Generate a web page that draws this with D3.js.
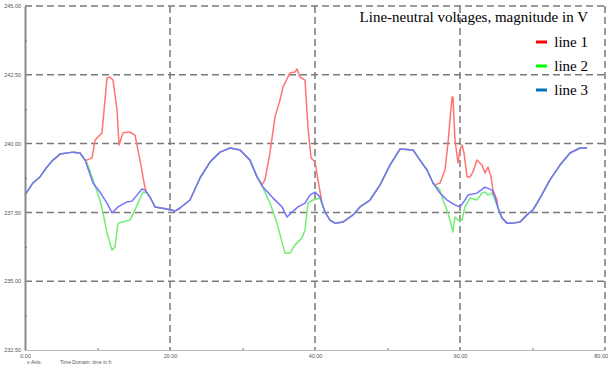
<!DOCTYPE html>
<html>
<head>
<meta charset="utf-8">
<script src="https://cdn.jsdelivr.net/npm/d3@7"></script>
<style>
  html, body { margin: 0; padding: 0; background: #fff; }
  svg { display: block; }
</style>
</head>
<body>
<svg id="chart" width="608" height="365"></svg>
<script>
// Time axis (hours) and voltage magnitudes (V) for the three line-neutral voltages
const line3Time = [0, 1.10, 2.07, 3.03, 3.86, 4.83, 6.62, 7.59, 8.28, 9.38, 10.34, 11.31, 12.0, 12.83, 14.07, 14.76,
  16.14, 16.55, 17.24, 17.93, 19.59, 20.69, 21.38, 22.76, 24.14, 25.52, 26.90, 28.28, 29.66, 31.03, 32.00, 32.83,
  34.21, 35.45, 36.14, 36.83, 37.66, 38.62, 39.31, 40.00, 40.69, 41.38, 42.07, 42.76, 43.86, 45.24, 46.21, 47.59,
  48.97, 50.34, 51.72, 53.52, 54.48, 55.45, 56.28, 57.24, 58.21, 59.31, 60.00, 60.69, 61.10, 62.34, 63.45, 64.41,
  64.83, 65.24, 65.79, 66.48, 67.31, 68.28, 69.24, 70.07, 71.03, 72.41, 73.79, 75.17, 76.55, 77.52];
const line3Volt = [238.13, 238.57, 238.79, 239.15, 239.40, 239.62, 239.69, 239.66, 239.40, 238.57, 238.24, 237.84, 237.48, 237.70, 237.88, 237.91,
  238.35, 238.31, 238.06, 237.70, 237.62, 237.55, 237.66, 237.95, 238.75, 239.33, 239.69, 239.84, 239.77, 239.40, 238.79, 238.42,
  238.02, 237.70, 237.33, 237.51, 237.70, 237.84, 238.13, 238.24, 238.06, 237.51, 237.22, 237.11, 237.15, 237.41, 237.70, 237.95,
  238.50, 239.22, 239.80, 239.77, 239.40, 239.04, 238.57, 238.20, 237.95, 237.77, 237.70, 237.95, 238.13, 238.20, 238.42, 238.31,
  238.06, 237.66, 237.30, 237.11, 237.11, 237.15, 237.41, 237.59, 238.02, 238.68, 239.22, 239.66, 239.84, 239.84];

const line1Time = [0, 1.10, 2.07, 3.03, 3.86, 4.83, 6.62, 7.59, 8.28,
  8.55, 9.24, 9.66, 10.07, 10.62, 11.31, 11.72, 12.14, 12.69, 12.97, 13.52, 14.48, 15.17, 15.86, 16.55, 16.83,
  17.24, 17.93, 19.59, 20.69, 21.38, 22.76, 24.14, 25.52, 26.90, 28.28, 29.66, 31.03, 32.00,
  32.69, 33.10, 33.79, 34.48, 35.17, 35.59, 36.55, 37.24, 37.52, 37.93, 38.62, 39.03, 39.45, 40.00, 40.41, 40.97, 41.38,
  42.07, 42.76, 43.86, 45.24, 46.21, 47.59, 48.97, 50.34, 51.72, 53.52, 54.48, 55.45, 56.28,
  56.55, 57.24, 57.93, 58.34, 58.90, 59.03, 59.31, 59.72, 60.00, 60.28, 60.55, 60.97, 61.38, 61.79, 62.34, 63.03,
  63.45, 63.86, 64.28, 64.55, 65.10,
  65.24, 65.79, 66.48, 67.31, 68.28, 69.24, 70.07, 71.03, 72.41, 73.79, 75.17, 76.55, 77.52];
const line1Volt = [238.13, 238.57, 238.79, 239.15, 239.40, 239.62, 239.69, 239.66, 239.40,
  239.40, 239.48, 240.13, 240.24, 240.39, 242.38, 242.42, 242.31, 241.22, 239.95, 240.39, 240.42, 240.31, 239.40, 238.39, 238.20,
  238.06, 237.70, 237.62, 237.55, 237.66, 237.95, 238.75, 239.33, 239.69, 239.84, 239.77, 239.40, 238.79,
  238.50, 238.68, 239.66, 240.97, 241.58, 242.06, 242.57, 242.60, 242.71, 242.42, 242.31, 240.60, 239.48, 239.33, 238.68, 237.84, 237.51,
  237.22, 237.11, 237.15, 237.41, 237.70, 237.95, 238.50, 239.22, 239.80, 239.77, 239.40, 239.04, 238.57,
  238.50, 238.57, 239.04, 240.02, 241.69, 241.69, 240.13, 239.30, 239.77, 239.95, 239.66, 238.79, 238.79, 238.97, 239.40, 239.22,
  238.93, 239.15, 238.79, 238.31, 237.95,
  237.66, 237.30, 237.11, 237.11, 237.15, 237.41, 237.59, 238.02, 238.68, 239.22, 239.66, 239.84, 239.84];

const line2Time = [0, 1.10, 2.07, 3.03, 3.86, 4.83, 6.62, 7.59, 8.28,
  8.55, 9.38, 10.34, 10.76, 11.31, 12.0, 12.41, 12.83, 13.38, 14.48, 15.17, 16.28, 16.83,
  17.24, 17.93, 19.59, 20.69, 21.38, 22.76, 24.14, 25.52, 26.90, 28.28, 29.66, 31.03, 32.00,
  32.83, 33.79, 34.76, 35.45, 35.86, 36.55, 37.24, 38.21, 38.62, 39.03, 39.72, 40.69, 41.38,
  42.07, 42.76, 43.86, 45.24, 46.21, 47.59, 48.97, 50.34, 51.72, 53.52, 54.48, 55.45, 56.28,
  57.24, 57.66, 58.34, 59.03, 59.31, 59.72, 60.28, 60.69, 61.38, 62.34, 63.03, 63.45, 63.86, 64.41, 64.83,
  65.24, 65.79, 66.48, 67.31, 68.28, 69.24, 70.07, 71.03, 72.41, 73.79, 75.17, 76.55, 77.52];
const line2Volt = [238.13, 238.57, 238.79, 239.15, 239.40, 239.62, 239.69, 239.66, 239.40,
  239.30, 238.68, 237.95, 237.48, 236.75, 236.13, 236.24, 237.11, 237.15, 237.22, 237.59, 238.24, 238.20,
  238.06, 237.70, 237.62, 237.55, 237.66, 237.95, 238.75, 239.33, 239.69, 239.84, 239.77, 239.40, 238.79,
  238.39, 237.84, 237.11, 236.42, 236.02, 236.02, 236.32, 236.57, 236.86, 237.84, 237.95, 238.02, 237.51,
  237.22, 237.11, 237.15, 237.41, 237.70, 237.95, 238.50, 239.22, 239.80, 239.77, 239.40, 239.04, 238.57,
  238.31, 237.95, 237.48, 236.79, 237.33, 237.22, 237.22, 237.70, 238.02, 237.95, 238.20, 238.24, 238.13, 238.20, 237.95,
  237.66, 237.30, 237.11, 237.11, 237.15, 237.41, 237.59, 238.02, 238.68, 239.22, 239.66, 239.84, 239.84];

const yTicks = [232.5, 235, 237.5, 240, 242.5, 245];
const yMinorTicks = [233.75, 236.25, 238.75, 241.25, 243.75];
const xTicks = [0, 20, 40, 60, 80];
const xMinorTicks = [10, 30, 50, 70];

const legendTitle = "Line-neutral voltages, magnitude in V";
const seriesNames = ["line 1", "line 2", "line 3"];
const legendColors = ["#ff0000", "#00ff00", "#0070c0"];
const traceColors = ["#ff7373", "#73ec73", "#7373ff"];

const svg = d3.select("#chart");
const x = d3.scaleLinear().domain([0, 80]).range([25, 605]);
const y = d3.scaleLinear().domain([232.5, 245]).range([350, 6]);

// dashed grid
const grid = svg.append("g").attr("stroke", "#7a7a7a").attr("stroke-width", 1.5)
  .attr("stroke-dasharray", "7,4").attr("fill", "none");
grid.selectAll("line.h").data(yTicks.filter(d => d > 232.5)).join("line")
  .attr("class", "h").attr("x1", x(0)).attr("x2", x(80))
  .attr("y1", d => y(d)).attr("y2", d => y(d));
grid.selectAll("line.v").data(xTicks.filter(d => d > 0)).join("line")
  .attr("class", "v").attr("y1", y(245)).attr("y2", y(232.5))
  .attr("x1", d => x(d)).attr("x2", d => x(d));

// traces: line 1 and line 2 below, line 3 on top
const lineGen = d3.line().x(d => x(d[0])).y(d => y(d[1]));
const series = [
  d3.zip(line1Time, line1Volt),
  d3.zip(line2Time, line2Volt),
  d3.zip(line3Time, line3Volt)
];
svg.append("g").selectAll("path").data(series).join("path")
  .attr("d", lineGen)
  .attr("fill", "none")
  .attr("stroke", (d, i) => traceColors[i])
  .attr("stroke-width", 1.5)
  .attr("stroke-linejoin", "round");

// axes
const yAxis = svg.append("g").attr("transform", `translate(${x(0)},0)`)
  .call(d3.axisLeft(y).tickValues(yTicks).tickFormat(d3.format(".2f")).tickSize(0).tickPadding(4));
yAxis.select(".domain").attr("stroke", "#8a8a8a").attr("stroke-width", 2);
yAxis.selectAll("text").attr("font-family", "Liberation Sans, Arial, sans-serif").attr("font-size", 5.5).attr("fill", "#555");

svg.append("g").attr("transform", `translate(${x(0)},0)`)
  .call(d3.axisRight(y).tickValues(yMinorTicks).tickSize(2).tickFormat(""))
  .call(g => g.select(".domain").remove())
  .selectAll("line").attr("stroke", "#777");

const xAxis = svg.append("g").attr("transform", `translate(0,${y(232.5)})`)
  .call(d3.axisBottom(x).tickValues(xTicks).tickFormat(d3.format(".2f")).tickSize(0).tickPadding(4));
xAxis.select(".domain").attr("stroke", "#bbb").attr("stroke-width", 1);
xAxis.selectAll("text").attr("font-family", "Liberation Sans, Arial, sans-serif").attr("font-size", 5.5).attr("fill", "#555");
// keep the last tick label inside the drawing area
xAxis.selectAll(".tick").filter(d => d === 80).select("text").attr("text-anchor", "end").attr("dx", 2.5);

svg.append("g").attr("transform", `translate(0,${y(232.5)})`)
  .call(d3.axisTop(x).tickValues(xMinorTicks).tickSize(2).tickFormat(""))
  .call(g => g.select(".domain").remove())
  .selectAll("line").attr("stroke", "#777");

// axis caption
const cap = svg.append("g").attr("font-family", "Liberation Sans, Arial, sans-serif")
  .attr("font-size", 5).attr("fill", "#555");
cap.append("text").attr("x", 27).attr("y", 364).text("x-Axis:");
cap.append("text").attr("x", 60).attr("y", 364).text("Time Domain: time in h");

// legend
const legend = svg.append("g").attr("font-family", "Liberation Serif, Times New Roman, serif").attr("fill", "#000");
legend.append("text").attr("x", 588).attr("y", 22).attr("text-anchor", "end")
  .attr("font-size", 15).text(legendTitle);
const items = legend.selectAll("g.item").data(seriesNames).join("g")
  .attr("class", "item").attr("transform", (d, i) => `translate(0,${47 + i * 24})`);
items.append("line").attr("x1", 536).attr("x2", 547).attr("y1", -5).attr("y2", -5)
  .attr("stroke", (d, i) => legendColors[i]).attr("stroke-width", 3);
items.append("text").attr("x", 588).attr("y", 0).attr("text-anchor", "end")
  .attr("font-size", 15).text(d => d);
</script>
</body>
</html>
